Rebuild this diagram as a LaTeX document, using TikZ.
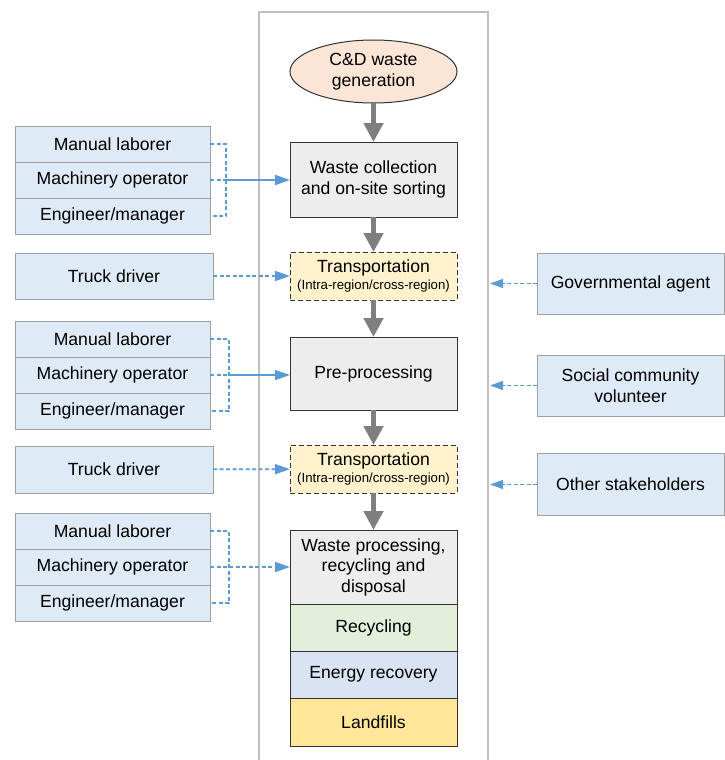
\documentclass[tikz,border=0pt]{standalone}
\usepackage{fontspec}
\setmainfont{Liberation Sans}
\usetikzlibrary{positioning,shapes.geometric,arrows.meta}
\definecolor{roleblue}{HTML}{DEEAF6}
\definecolor{linkblue}{HTML}{5B9BD5}
\definecolor{stagegray}{HTML}{EDEDED}
\definecolor{flowgray}{HTML}{7F7F7F}
\definecolor{framegray}{HTML}{BFBFBF}
\definecolor{genpeach}{HTML}{FBE5D6}
\definecolor{transyellow}{HTML}{FFF2CC}
\definecolor{recgreen}{HTML}{E2EFDA}
\definecolor{energyblue}{HTML}{DAE3F3}
\definecolor{landyellow}{HTML}{FFE699}

\begin{document}
\begin{tikzpicture}[x=1pt,y=-1pt,
  role/.style={draw=gray!75,line width=1pt,fill=roleblue,minimum width=195pt,minimum height=36pt,inner sep=0pt,outer sep=0pt,align=center,font=\fontsize{17.6}{20.5}\selectfont},
  stage/.style={draw=black!80,line width=1pt,fill=stagegray,minimum width=167pt,inner sep=0pt,outer sep=0pt,align=center,font=\fontsize{17.6}{20.5}\selectfont},
  flow/.style={draw=flowgray,line width=5pt,-{Triangle[width=19pt,length=19pt]}},
  link/.style={draw=linkblue,line width=1.3pt,dash pattern=on 4pt off 2.5pt},
  bluehead/.style={-{Triangle[width=9pt,length=13pt]}},
  blueheadbig/.style={-{Triangle[width=10pt,length=15pt]}}]
\useasboundingbox (0,0) rectangle (725,760);
\draw[framegray,line width=1.3pt] (259,760) |- (488,12) -- (488,760);

% main chain
\node[stage,ellipse,fill=genpeach,minimum width=167pt,minimum height=63pt] (gen) at (373.5,71.5) {C\&D waste\\generation};
\node[stage,minimum height=75pt] (collect) at (373.5,179.5) {Waste collection\\and on-site sorting};
\node[stage,fill=transyellow,dash pattern=on 5pt off 3pt,minimum height=48pt] (trans1) at (373.5,276) {Transportation\\[-3pt]{\fontsize{13.2}{15}\selectfont(Intra-region/cross-region)}};
\node[stage,minimum height=73pt] (pre) at (373.5,373.5) {Pre-processing};
\node[stage,fill=transyellow,dash pattern=on 5pt off 3pt,minimum height=48pt] (trans2) at (373.5,469) {Transportation\\[-3pt]{\fontsize{13.2}{15}\selectfont(Intra-region/cross-region)}};
\node[stage,minimum height=74pt] (proc) at (373.5,567) {Waste processing,\\recycling and\\disposal};
\node[stage,fill=recgreen,minimum height=47pt,below=0pt of proc] (recyc) {Recycling};
\node[stage,fill=energyblue,minimum height=47pt,below=0pt of recyc] (energy) {Energy recovery};
\node[stage,fill=landyellow,minimum height=48pt,below=0pt of energy] (landfill) {Landfills};
\foreach \a/\b in {gen/collect,collect/trans1,trans1/pre,pre/trans2,trans2/proc} \draw[flow] (\a) -- (\b);

% left side roles
\foreach \n/\y/\k in {a/144/16,b/339/19,c/531/19} {
  \node[role] (\n1) at (112.5,\y) {Manual laborer};
  \node[role,below=0pt of \n1] (\n2) {Machinery operator};
  \node[role,below=0pt of \n2] (\n3) {Engineer/manager};
  \coordinate (\n k) at ([xshift=\k pt]\n2.east);
  \draw[link] (\n1.east) -| (\n k) |- (\n3.east); \draw[link] (\n2.east) -- (\n k);
}
\draw[linkblue,line width=2pt,blueheadbig] (ak) -- (ak -| collect.west);
\draw[linkblue,line width=1.3pt,blueheadbig] (bk) -- (bk -| pre.west);
\draw[link,line width=1.6pt,blueheadbig] (ck) -- (ck -| proc.west);

\node[role,minimum width=198pt,minimum height=46pt] (truck1) at (114,276) {Truck driver};
\node[role,minimum width=198pt,minimum height=47pt] (truck2) at (114,469.5) {Truck driver};
\draw[link,line width=1.8pt,blueheadbig] (truck1) -- (trans1);
\draw[link,line width=1.8pt,blueheadbig] (truck2) -- (trans2);

% right side roles
\node[role,minimum width=187pt,minimum height=61pt] (gov) at (630.5,283.5) {Governmental agent};
\node[role,minimum width=187pt,minimum height=61pt] (soc) at (630.5,385.5) {Social community\\volunteer};
\node[role,minimum width=187pt,minimum height=62pt] (other) at (630.5,484.5) {Other stakeholders};
\foreach \n in {gov,soc,other} {
  \coordinate (\n end) at ([xshift=-47pt]\n.west);
  \draw[link,bluehead] (\n.west) -- (\n end);
}
\end{tikzpicture}
\end{document}
